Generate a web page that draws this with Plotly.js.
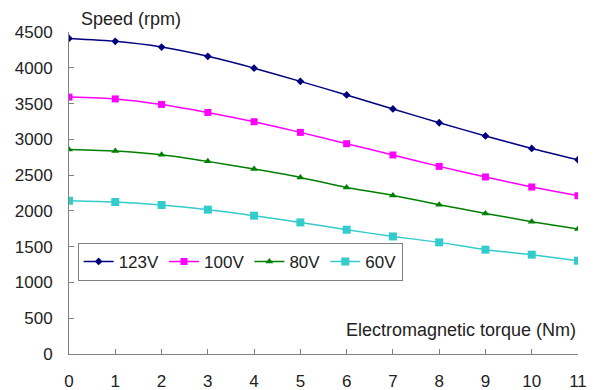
<!DOCTYPE html>
<html>
<head>
<meta charset="utf-8">
<script src="https://cdn.plot.ly/plotly-3.0.1.min.js"></script>
<style>html,body{margin:0;padding:0;background:#fff;}#chart{width:595px;height:390px;}</style>
</head>
<body>
<div id="chart"></div>
<script>
const torque = [0, 1, 2, 3, 4, 5, 6, 7, 8, 9, 10, 11];
const speed123V = [4410, 4370, 4290, 4160, 3995, 3810, 3620, 3425, 3232, 3047, 2873, 2715];
const speed100V = [3590, 3565, 3488, 3376, 3246, 3097, 2939, 2781, 2622, 2474, 2334, 2212];
const speed80V  = [2859, 2837, 2785, 2692, 2585, 2468, 2328, 2216, 2086, 1965, 1849, 1747];
const speed60V  = [2142, 2124, 2082, 2017, 1933, 1839, 1737, 1643, 1560, 1458, 1388, 1304];
const seriesNames = ['123V', '100V', '80V', '60V'];
const xTicks = [0, 1, 2, 3, 4, 5, 6, 7, 8, 9, 10, 11];
const yTicks = [0, 500, 1000, 1500, 2000, 2500, 3000, 3500, 4000, 4500];

const styles = [
  {color: '#000080', symbol: 'diamond', size: 6, width: 1.5},
  {color: '#FF00FF', symbol: 'square', size: 7, width: 1.5},
  {color: '#008000', symbol: 'triangle-up', size: 7, width: 1.5},
  {color: '#33CCCC', symbol: 'square', size: 8, width: 1.5}
];
const ys = [speed123V, speed100V, speed80V, speed60V];
const traces = ys.map((y, i) => ({
  x: torque, y: y, name: seriesNames[i], type: 'scatter', mode: 'lines+markers',
  line: {color: styles[i].color, width: styles[i].width, shape: 'spline', smoothing: 0.6},
  marker: {color: styles[i].color, symbol: styles[i].symbol, size: styles[i].size}
}));

const font = {family: 'Liberation Sans, Arial, sans-serif', size: 17, color: '#222'};
const layout = {
  width: 595, height: 390,
  margin: {l: 68.5, r: 17, t: 32, b: 36},
  paper_bgcolor: '#fff', plot_bgcolor: '#fff',
  font: font,
  showlegend: true,
  legend: {
    orientation: 'h', x: 0.017, y: 0.345, xanchor: 'left', yanchor: 'top',
    bgcolor: '#fff', bordercolor: '#808080', borderwidth: 1,
    font: {family: font.family, size: 17, color: '#222'},
    itemwidth: 30, tracegroupgap: 0
  },
  xaxis: {
    range: [0, 11], tickvals: xTicks, ticktext: xTicks.map(String),
    showgrid: false, zeroline: false, showline: true, linecolor: '#808080', linewidth: 1,
    ticks: 'inside', ticklen: 5, tickcolor: '#808080', ticklabelstandoff: 12,
    tickfont: font, fixedrange: true
  },
  yaxis: {
    range: [0, 4500], tickvals: yTicks, ticktext: yTicks.map(String),
    showgrid: false, zeroline: false, showline: true, linecolor: '#808080', linewidth: 1,
    ticks: 'inside', ticklen: 5, tickcolor: '#808080', ticklabelstandoff: 12,
    tickfont: font, fixedrange: true
  },
  annotations: [
    {text: 'Speed (rpm)', xref: 'paper', yref: 'paper', x: 0.02, y: 1.0, xanchor: 'left', yanchor: 'bottom',
     yshift: 1, showarrow: false, font: {family: font.family, size: 18, color: '#222'}},
    {text: 'Electromagnetic torque (Nm)', xref: 'paper', yref: 'paper', x: 1.0, y: 0.075, xanchor: 'right', yanchor: 'middle',
     showarrow: false, font: {family: font.family, size: 18, color: '#222'}}
  ]
};
Plotly.newPlot('chart', traces, layout, {displayModeBar: false, staticPlot: true});
</script>
</body>
</html>
